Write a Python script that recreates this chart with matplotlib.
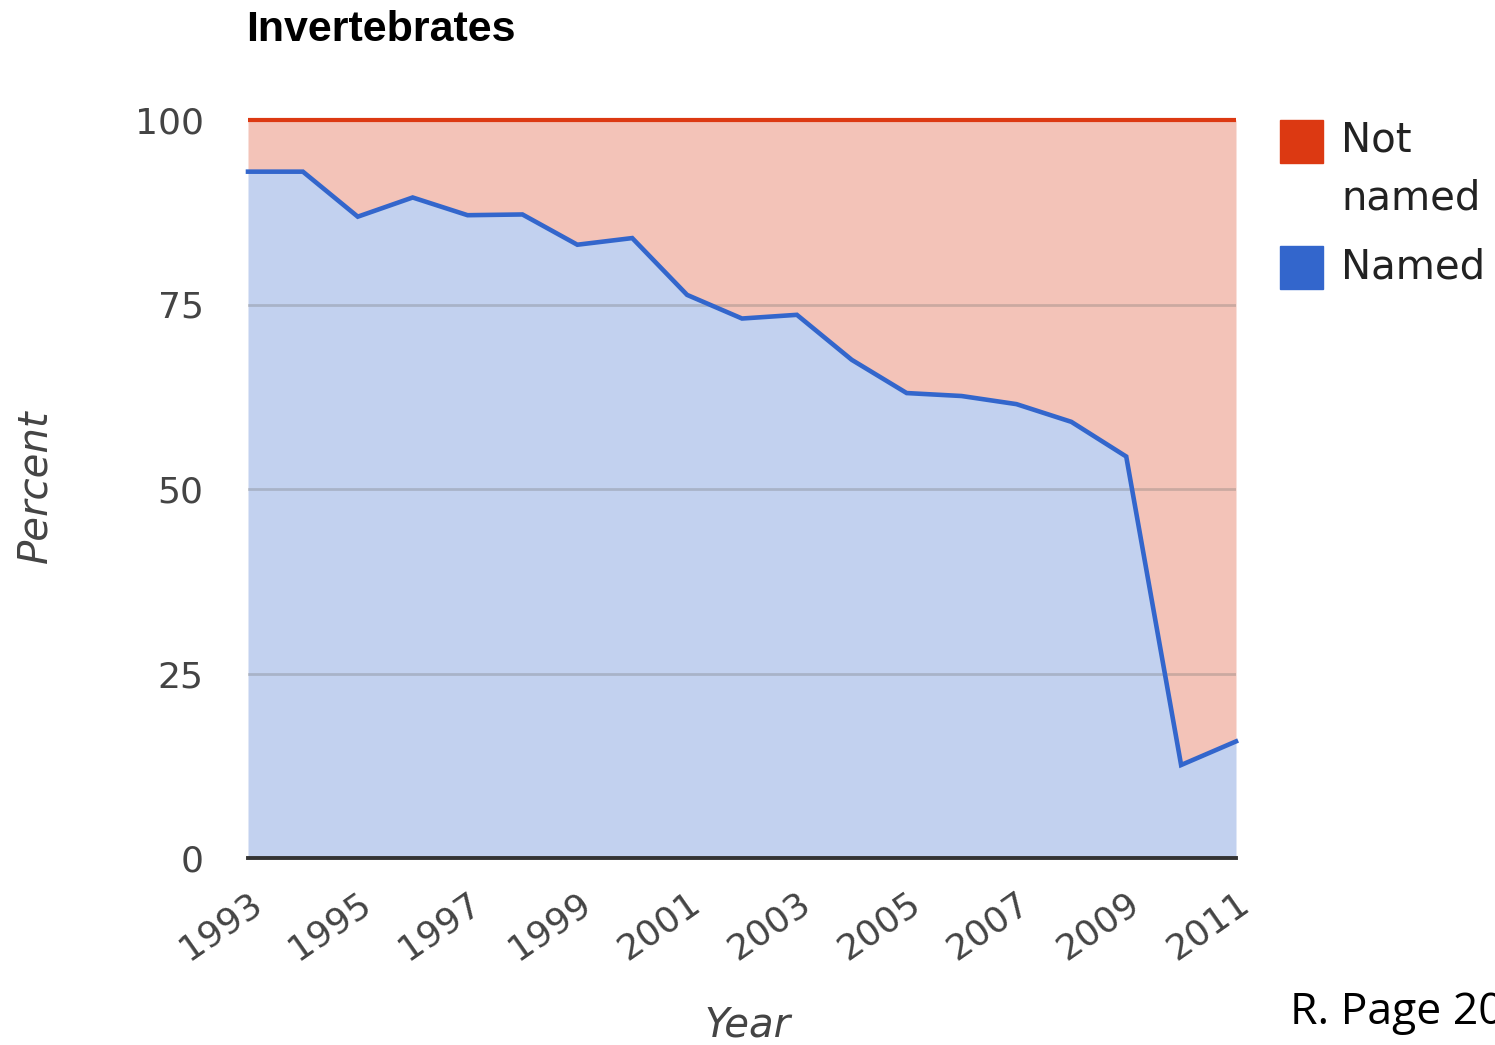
import matplotlib
matplotlib.use("Agg")
import matplotlib.pyplot as plt
import matplotlib.transforms as mtransforms
from matplotlib.patches import Rectangle

years = list(range(1993, 2012))
named = [93.0, 93.0, 86.9, 89.5, 87.1, 87.2, 83.1, 84.0, 76.3, 73.1, 73.6,
         67.5, 63.0, 62.6, 61.5, 59.1, 54.4, 12.6, 15.8]
total = [100] * len(years)
yticks = [0, 25, 50, 75, 100]
xticks = list(range(1993, 2012, 2))
title = "Invertebrates"

RED = "#DC3912"
BLUE = "#3366CC"
TXT = "#444444"

fig = plt.figure(figsize=(14.95, 10.45), dpi=100)
ax = fig.add_axes([248/1495, 1-858/1045, (1236-248)/1495, (858-120)/1045])

ax.fill_between(years, named, total, color="#F3C3B8", lw=0, zorder=1)
ax.fill_between(years, 0, named, color="#C2D1EF", lw=0, zorder=1)
for yv in [25, 50, 75]:
    ax.axhline(yv, color="#6E6E6E", alpha=0.3, lw=2.0, zorder=2)
ax.plot(years, total, color=RED, lw=3, zorder=3, solid_capstyle="butt",
        clip_on=False)
ax.plot(years, named, color=BLUE, lw=3.3, zorder=4, solid_joinstyle="miter",
        clip_on=False)
ax.axhline(0, color="#333333", lw=2.8, zorder=5, clip_on=False)

ax.set_xlim(1993, 2011)
ax.set_ylim(0, 100)
for s in ax.spines.values():
    s.set_visible(False)
ax.set_yticks(yticks)
ax.set_yticklabels([str(v) for v in yticks], fontsize=26, color=TXT,
                   family="DejaVu Sans")
ax.set_xticks(xticks)
ax.set_xticklabels([str(v) for v in xticks], fontsize=26, color=TXT,
                   family="DejaVu Sans", rotation=35, ha="right",
                   rotation_mode="anchor")
ax.tick_params(length=0)
ax.tick_params(axis="y", pad=32)
ax.tick_params(axis="x", pad=20)

fig.text(246/1495, 1-30/1045, title, fontsize=31, fontweight="bold",
         family="Liberation Sans", va="center", ha="left", color="black")
fig.text(748/1495, 1-1025/1045, "Year", fontsize=29, style="italic",
         family="DejaVu Sans", color=TXT, ha="center", va="center")
fig.text(35/1495, 1-486/1045, "Percent", fontsize=29, style="italic",
         family="DejaVu Sans", color=TXT, ha="center", va="center",
         rotation=90)

# legend
fig.patches.append(Rectangle((1280/1495, 1-163/1045), 43/1495, 43/1045,
                             transform=fig.transFigure, color=RED))
fig.patches.append(Rectangle((1280/1495, 1-289/1045), 43/1495, 43/1045,
                             transform=fig.transFigure, color=BLUE))
for txt, yy in [("Not", 141), ("named", 198), ("Named", 267)]:
    fig.text(1341/1495, 1-yy/1045, txt, fontsize=29, family="DejaVu Sans",
             color="#222222", va="center", ha="left")

fig.text(1290/1495, 1-1013/1045, "R. Page 2012", fontsize=32,
         family="Open Sans", color="black", va="center", ha="left")

fig.savefig("out.png", dpi=100)
